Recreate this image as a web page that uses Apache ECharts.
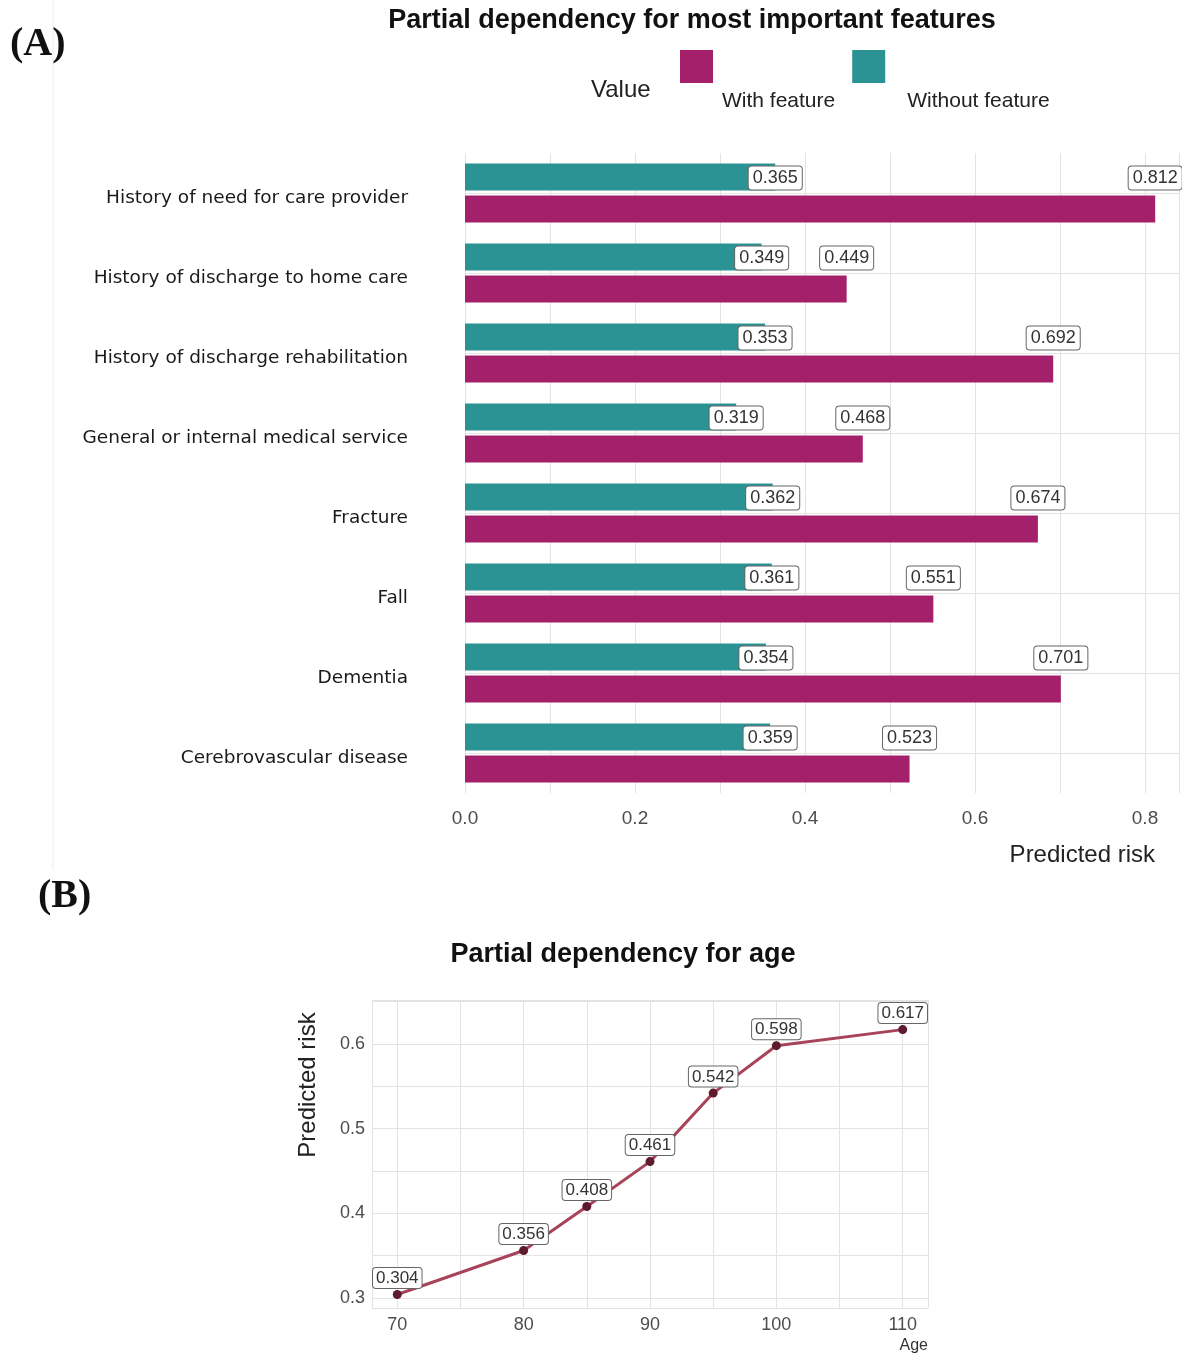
<!DOCTYPE html>
<html>
<head>
<meta charset="utf-8">
<script src="https://cdn.jsdelivr.net/npm/echarts@6/dist/echarts.min.js"></script>
<style>
  html, body { margin: 0; padding: 0; background: #ffffff; }
  #chart { width: 1182px; height: 1354px; }
</style>
</head>
<body>
<div id="chart"></div>
<script>
// Panel A: partial dependency for the most important features
const features = [
  'History of need for care provider',
  'History of discharge to home care',
  'History of discharge rehabilitation',
  'General or internal medical service',
  'Fracture',
  'Fall',
  'Dementia',
  'Cerebrovascular disease'
];
const withFeature    = [0.812, 0.449, 0.692, 0.468, 0.674, 0.551, 0.701, 0.523];
const withoutFeature = [0.365, 0.349, 0.353, 0.319, 0.362, 0.361, 0.354, 0.359];

// Panel B: partial dependency for age
const ages    = [70, 80, 85, 90, 95, 100, 110];
const ageRisk = [0.304, 0.356, 0.408, 0.461, 0.542, 0.598, 0.617];

const SANS = '"Liberation Sans", Arial, sans-serif';
const WIDE = '"DejaVu Sans", sans-serif';
const SERIF = '"Liberation Serif", "Times New Roman", serif';
const COL_WITH = '#A4206A';
const COL_WITHOUT = '#2B9393';
const GRID_COL = '#e3e3e3';

const boxLabel = {
  show: true,
  fontFamily: SANS,
  color: '#333333',
  backgroundColor: '#ffffff',
  borderColor: '#666666',
  borderWidth: 1,
  borderRadius: 3
};

function isMultiple(v, step) {
  const r = v / step;
  return Math.abs(r - Math.round(r)) < 1e-6;
}

const legendText = { fontFamily: SANS, fontSize: 21, color: '#222222' };

const chart = echarts.init(document.getElementById('chart'), null, { renderer: 'canvas' });

chart.setOption({
  animation: false,
  backgroundColor: '#ffffff',
  title: [
    {
      text: 'Partial dependency for most important features',
      left: 692, top: 7, padding: 0, textAlign: 'center',
      textStyle: { fontFamily: SANS, fontSize: 27, fontWeight: 'bold', color: '#111111' }
    },
    {
      text: 'Partial dependency for age',
      left: 623, top: 941, padding: 0, textAlign: 'center',
      textStyle: { fontFamily: SANS, fontSize: 27, fontWeight: 'bold', color: '#111111' }
    }
  ],
  legend: {
    left: 680, top: 50, padding: 0,
    itemWidth: 33, itemHeight: 33, itemGap: 17,
    icon: 'rect',
    selectedMode: false,
    data: ['With feature', 'Without feature'],
    // key text sits below the swatch baseline
    formatter: name => (name === 'With feature' ? '{a|' : '{b|') + name + '}',
    textStyle: Object.assign({}, legendText, {
      rich: {
        a: Object.assign({}, legendText, { padding: [70, 0, 0, 4] }),
        b: Object.assign({}, legendText, { padding: [70, 0, 0, 17] })
      }
    })
  },
  graphic: [
    { type: 'line', shape: { x1: 53, y1: 0, x2: 53, y2: 870 }, style: { stroke: '#ececec', lineWidth: 1 } },
    { type: 'text', left: 10, top: 25, style: { text: '(A)', font: 'bold 40px ' + SERIF, fill: '#111111' } },
    { type: 'text', left: 38, top: 877, style: { text: '(B)', font: 'bold 40px ' + SERIF, fill: '#111111' } },
    { type: 'text', left: 591, top: 78, style: { text: 'Value', font: '24px ' + SANS, fill: '#222222' } }
  ],
  grid: [
    { left: 465, top: 153, width: 714, height: 640 },
    { left: 372, top: 1000, width: 556, height: 308 }
  ],
  xAxis: [
    {
      gridIndex: 0, type: 'value', min: 0, max: 0.84, interval: 0.1,
      axisLine: { show: false }, axisTick: { show: false },
      splitLine: { show: true, lineStyle: { color: GRID_COL, width: 1 } },
      axisLabel: {
        margin: 16, fontFamily: SANS, fontSize: 19, color: '#4d4d4d',
        formatter: v => isMultiple(v, 0.2) ? v.toFixed(1) : ''
      },
      name: 'Predicted risk', nameLocation: 'end', nameGap: 0,
      nameTextStyle: {
        fontFamily: SANS, fontSize: 24, color: '#222222',
        align: 'right', verticalAlign: 'top', padding: [50, 24, 0, 0]
      }
    },
    {
      gridIndex: 1, type: 'value', min: 68, max: 112, splitNumber: 9,
      axisLine: { show: false }, axisTick: { show: false },
      splitLine: { show: true, lineStyle: { color: GRID_COL, width: 1 } },
      axisLabel: {
        margin: 8, fontFamily: SANS, fontSize: 18, color: '#4d4d4d',
        formatter: v => isMultiple(v, 10) ? String(Math.round(v)) : ''
      },
      name: 'Age', nameLocation: 'end', nameGap: 0,
      nameTextStyle: {
        fontFamily: SANS, fontSize: 16, color: '#333333',
        align: 'right', verticalAlign: 'top', padding: [30, 0, 0, 0]
      }
    }
  ],
  yAxis: [
    {
      gridIndex: 0, type: 'category', data: features, inverse: true,
      axisLine: { show: false }, axisTick: { show: false },
      splitLine: { show: true, alignWithLabel: true, lineStyle: { color: GRID_COL, width: 1 } },
      axisLabel: {
        margin: 57,
        formatter: '{t|{value}}',
        rich: { t: { fontFamily: WIDE, fontSize: 18.5, color: '#1a1a1a', padding: [10, 0, 0, 0] } }
      }
    },
    {
      gridIndex: 1, type: 'value', min: 0.288, max: 0.652, splitNumber: 7,
      axisLine: { show: false }, axisTick: { show: false },
      splitLine: { show: true, lineStyle: { color: GRID_COL, width: 1 } },
      axisLabel: {
        margin: 7, fontFamily: SANS, fontSize: 18, color: '#4d4d4d',
        formatter: v => isMultiple(v, 0.1) ? v.toFixed(1) : ''
      },
      name: 'Predicted risk', nameLocation: 'middle', nameGap: 52,
      nameTextStyle: { fontFamily: SANS, fontSize: 24, color: '#222222', padding: [0, 0, 0, 138] }
    }
  ],
  series: [
    {
      name: 'Without feature', type: 'bar', xAxisIndex: 0, yAxisIndex: 0,
      data: withoutFeature, barWidth: 27, barGap: '18%',
      itemStyle: { color: COL_WITHOUT },
      label: Object.assign({}, boxLabel, {
        position: ['100%', '50%'], align: 'center', verticalAlign: 'middle',
        offset: [0, 1],
        fontSize: 18, padding: [3, 4, 2, 4],
        formatter: p => p.value.toFixed(3)
      })
    },
    {
      name: 'With feature', type: 'bar', xAxisIndex: 0, yAxisIndex: 0,
      data: withFeature, barWidth: 27, barGap: '18%',
      itemStyle: { color: COL_WITH },
      label: Object.assign({}, boxLabel, {
        position: ['100%', '50%'], align: 'center', verticalAlign: 'middle',
        offset: [0, -31],
        fontSize: 18, padding: [3, 4, 2, 4],
        formatter: p => p.value.toFixed(3)
      })
    },
    {
      name: 'Age', type: 'line', xAxisIndex: 1, yAxisIndex: 1,
      data: ages.map((a, i) => [a, ageRisk[i]]),
      symbol: 'circle', symbolSize: 9,
      lineStyle: { color: '#A8435A', width: 3 },
      itemStyle: { color: '#5E1A2E' },
      label: Object.assign({}, boxLabel, {
        position: 'top', distance: 2,
        fontSize: 17, padding: [2, 3, 1, 3],
        formatter: p => p.value[1].toFixed(3)
      }),
      z: 3
    }
  ]
});
</script>
</body>
</html>
